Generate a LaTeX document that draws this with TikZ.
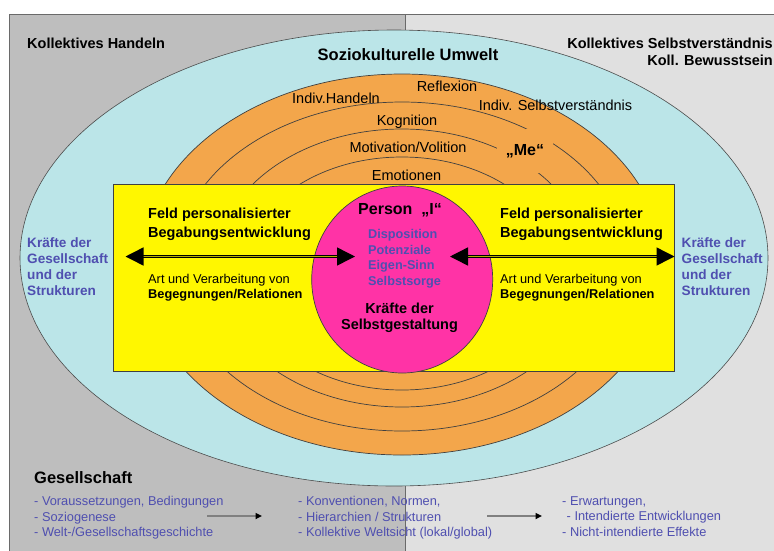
\documentclass[tikz,border=0pt]{standalone}
\usepackage{fontspec}
\setmainfont{Liberation Sans}
\usepackage{tikz}
\usetikzlibrary{positioning,arrows.meta}

\definecolor{leftgray}{HTML}{BEBEBE}
\definecolor{rightgray}{HTML}{E0E0E0}
\definecolor{framegray}{HTML}{6A6A6A}
\definecolor{umweltcyan}{HTML}{BBE5E8}
\definecolor{ringorange}{HTML}{F3A64B}
\definecolor{feldyellow}{HTML}{FFF700}
\definecolor{personpink}{HTML}{FF33A6}
\definecolor{kraftblue}{HTML}{4F4FB0}

\tikzset{
  ring/.style={draw=black!75, line width=0.7pt},
  ringtext/.style={inner sep=0pt, anchor=base, font=\fontsize{14.5}{17}\selectfont},
  headtext/.style={inner sep=0pt, font=\bfseries\fontsize{14.5}{17}\selectfont},
  feldtext/.style={inner sep=0pt, anchor=north west, align=left, font=\bfseries\fontsize{14.5}{19}\selectfont},
  arttext/.style={inner sep=0pt, anchor=north west, align=left, font=\fontsize{12.8}{15}\selectfont},
  krafttext/.style={inner sep=0pt, anchor=north west, align=left, text=kraftblue, font=\bfseries\fontsize{13.6}{16.3}\selectfont},
  listtext/.style={inner sep=0pt, anchor=north west, align=left, text=kraftblue, font=\fontsize{12.8}{15.5}\selectfont},
  twoway/.style={{Triangle[length=18pt,width=18pt]}-{Triangle[length=18pt,width=18pt]}, line width=1.45pt, double=feldyellow!70!black, double distance=0.8pt},
  leadsto/.style={-{Triangle[length=6.5pt,width=6pt,black]}, draw=black!50, line width=1.6pt}
}

\begin{document}
\begin{tikzpicture}[x=1pt,y=-1pt]
\useasboundingbox (0,0) rectangle (774,550);
% background
\draw[framegray, line width=0.9pt, fill=leftgray] (9.3,14.7) rectangle (405,560);
\draw[framegray, line width=0.9pt, fill=rightgray] (405,14.7) rectangle (790,560);
\draw[draw=black!70, line width=0.6pt, fill=umweltcyan] (394,258) ellipse [x radius=374, y radius=228];
\draw[ring, fill=ringorange] (402,264.5) ellipse [x radius=261, y radius=190.5];
\foreach \cy/\rx/\ry in {266.5/227/164.5, 268/187/139, 273.5/159/116.5}
  \draw[ring] (402,\cy) ellipse [x radius=\rx, y radius=\ry];

\node (kollHandeln)[headtext, anchor=base west] at (27,48.2) {Kollektives Handeln};
\node (kollSelbst)[headtext, anchor=north east, align=right] at (773,37.7) {Kollektives Selbstverständnis\\Koll. Bewusstsein};
\node (umwelt)[headtext, anchor=base, font=\bfseries\fontsize{16.5}{19}\selectfont] at (408,60.9) {Soziokulturelle Umwelt};

% ring labels
\node (reflexion)[ringtext] at (447,91.7) {Reflexion};
\node (indivHandeln)[ringtext] at (336,103) {Indiv.Handeln};
\node (indivSelbst)[ringtext] at (555.5,110) {Indiv. Selbstverständnis};
\node (kognition)[ringtext] at (407,125) {Kognition};
\node (motivation)[ringtext] at (408,152) {Motivation/Volition};
\node (emotionen)[ringtext] at (406.5,180) {Emotionen};
\node (me)[fill=ringorange, inner sep=0pt, minimum width=56pt, minimum height=44pt, font=\bfseries\fontsize{16}{19}\selectfont] at (525,151) {„Me“};

% field and person
\draw[draw=black!75, line width=0.8pt, fill=feldyellow] (113.3,184.7) rectangle (674.5,371.3);
\draw[draw=black!75, line width=0.7pt, fill=personpink] (402.2,279.5) ellipse [x radius=90.5, y radius=93.5];

\node (feldL)[feldtext] at (148,207.7) {Feld personalisierter\\Begabungsentwicklung};
\node (feldR)[feldtext] at (500,207.7) {Feld personalisierter\\Begabungsentwicklung};
\node (artL)[arttext] at (148,274.3) {Art und Verarbeitung von\\\textbf{Begegnungen/Relationen}};
\node (artR)[arttext] at (500,274.3) {Art und Verarbeitung von\\\textbf{Begegnungen/Relationen}};
\node (kraefteL)[krafttext] at (27,237) {Kräfte der\\Gesellschaft\\und der\\Strukturen};
\node (kraefteR)[krafttext] at (681.5,237) {Kräfte der\\Gesellschaft\\und der\\Strukturen};

\node (person)[headtext, anchor=base, font=\bfseries\fontsize{16}{19}\selectfont] at (400,214.8) {Person\ \ „I“};
\node (dispo)[krafttext, font=\bfseries\fontsize{12.7}{15.6}\selectfont] at (368,229.3) {Disposition\\Potenziale\\Eigen-Sinn\\Selbstsorge};
\node (selbstgest)[headtext, anchor=north, align=center, font=\bfseries\fontsize{14.5}{16}\selectfont] at (399.5,302.7) {Kräfte der\\Selbstgestaltung};

% draw the connections
\coordinate (outL) at (125.5,256.5);
\coordinate (inL) at (355,256.5);
\coordinate (inR) at (450,256.5);
\coordinate (outR) at (674.5,256.5);
\draw[twoway] (outL) -- (inL);
\draw[twoway] (inR) -- (outR);

% Gesellschaft
\node (gesellschaft)[headtext, anchor=base west, font=\bfseries\fontsize{16.5}{19}\selectfont] at (34,483) {Gesellschaft};
\node (listA)[listtext] at (34,496.3) {- Voraussetzungen, Bedingungen\\- Soziogenese\\- Welt-/Gesellschaftsgeschichte};
\node (listB)[listtext] at (298,496.3) {- Konventionen, Normen,\\- Hierarchien / Strukturen\\- Kollektive Weltsicht (lokal/global)};
\node (listC)[listtext] at (562,496.3) {- Erwartungen,\\\hspace*{4.5pt}- Intendierte Entwicklungen\\- Nicht-intendierte Effekte};
\coordinate (fromA) at (207,516);
\coordinate (toB) at (262,516);
\coordinate (fromB) at (487,516);
\coordinate (toC) at (542,516);
\draw[leadsto] (fromA) -- (toB);
\draw[leadsto] (fromB) -- (toC);
\end{tikzpicture}
\end{document}
